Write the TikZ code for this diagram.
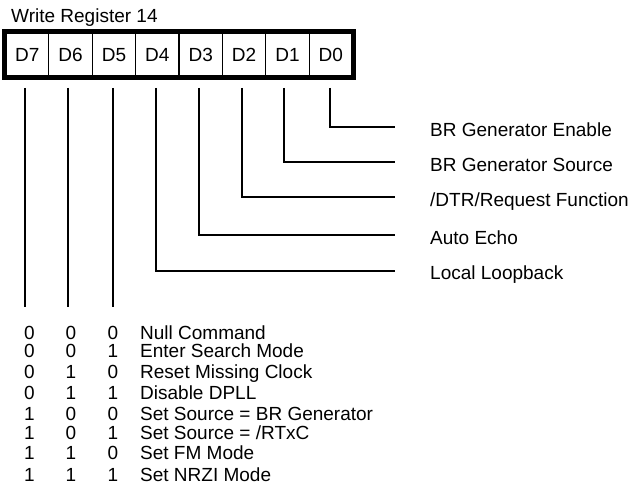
\documentclass[tikz,border=0pt]{standalone}
\usepackage{fontspec}
\setmainfont{Liberation Sans}
\begin{document}
\begin{tikzpicture}[x=1pt,y=-1pt,
  cell/.style={draw,line width=1.2pt,minimum width=43.375pt,minimum height=43pt,inner sep=0pt,text height=13.6pt,text depth=0pt,font=\fontsize{19}{21}\selectfont},
  wire/.style={line width=2pt},
  lbl/.style={anchor=base west,inner sep=0pt,font=\fontsize{19}{21}\selectfont},
  dig/.style={anchor=base,inner sep=0pt,font=\fontsize{19}{21}\selectfont},
  cmd/.style={anchor=base west,inner sep=0pt,font=\fontsize{19}{21}\selectfont}]
\useasboundingbox (0,0) rectangle (631,484);
\node[anchor=base west,inner sep=0pt,font=\fontsize{19}{21}\selectfont] (title) at (11,22.7) {Write Register 14};
\node[cell] (c7) at (27.19,55) {D7};
\node[cell] (c6) at (70.56,55) {D6};
\node[cell] (c5) at (113.94,55) {D5};
\node[cell] (c4) at (157.31,55) {D4};
\node[cell] (c3) at (200.69,55) {D3};
\node[cell] (c2) at (244.06,55) {D2};
\node[cell] (c1) at (287.44,55) {D1};
\node[cell] (c0) at (330.81,55) {D0};
\draw[line width=5pt] ([yshift=1pt]c7.north west) rectangle ([yshift=-0.5pt]c0.south east);
% wire tops
\coordinate (t7) at (25,88);
\coordinate (t6) at (68,88);
\coordinate (t5) at (113,88);
\coordinate (t4) at (156,88);
\coordinate (t3) at (199,88);
\coordinate (t2) at (242,88);
\coordinate (t1) at (284,88);
\coordinate (t0) at (330,88);
% bottoms of D7..D5
\coordinate (b7) at (25,307);
\coordinate (b6) at (68,307);
\coordinate (b5) at (113,307);
% ends
\coordinate (e0) at (395,127);
\coordinate (e1) at (395,162);
\coordinate (e2) at (395,197);
\coordinate (e3) at (395,234.5);
\coordinate (e4) at (395,270.5);
\node[lbl] (l0) at (430,136.8) {BR Generator Enable};
\node[lbl] (l1) at (430,171.3) {BR Generator Source};
\node[lbl] (l2) at (430,206.8) {/DTR/Request Function};
\node[lbl] (l3) at (430,244.3) {Auto Echo};
\node[lbl] (l4) at (430,279.3) {Local Loopback};
\draw[wire] (t0) |- (e0);
\draw[wire] (t1) |- (e1);
\draw[wire] (t2) |- (e2);
\draw[wire] (t3) |- (e3);
\draw[wire] (t4) |- (e4);
\draw[wire] (t7) -- (b7);
\draw[wire] (t6) -- (b6);
\draw[wire] (t5) -- (b5);
% table
\foreach \a/\b/\c/\t/\y [count=\i] in {
  0/0/0/{Null Command}/339.3,
  0/0/1/{Enter Search Mode}/357.3,
  0/1/0/{Reset Missing Clock}/378.8,
  0/1/1/{Disable DPLL}/399.8,
  1/0/0/{Set Source = BR Generator}/420.8,
  1/0/1/{Set Source = {/}RTxC}/439.8,
  1/1/0/{Set FM Mode}/459.8,
  1/1/1/{Set NRZI Mode}/481.8}{
  \node[dig] (da\i) at (29.3,\y) {\a};
  \node[dig] (db\i) at (71,\y) {\b};
  \node[dig] (dc\i) at (113,\y) {\c};
  \node[cmd] (m\i) at (140,\y) {\t};
}
\end{tikzpicture}
\end{document}
